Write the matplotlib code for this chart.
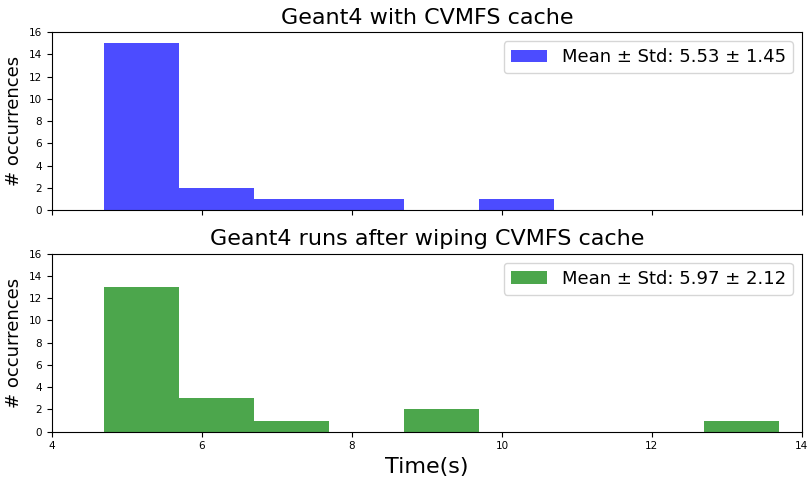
import numpy as np
import matplotlib.pyplot as plt

# histogram bins (seconds) and counts
bin_edges = [4.7, 5.7, 6.7, 7.7, 8.7, 9.7, 10.7, 11.7, 12.7, 13.7]
counts_cache = [15, 2, 1, 1, 0, 1, 0, 0, 0]
counts_wiped = [13, 3, 1, 0, 2, 0, 0, 0, 1]
label_cache = 'Mean ± Std: 5.53 ± 1.45'
label_wiped = 'Mean ± Std: 5.97 ± 2.12'

fig, (ax1, ax2) = plt.subplots(2, 1, figsize=(8.1, 4.78), dpi=100, sharex=True)
fig.subplots_adjust(left=0.064, right=0.99, top=0.933, bottom=0.097, hspace=0.245)

ax1.hist(bin_edges[:-1], bins=bin_edges, weights=counts_cache, color='blue', alpha=0.7,
         label=label_cache)
ax2.hist(bin_edges[:-1], bins=bin_edges, weights=counts_wiped, color='green', alpha=0.7,
         label=label_wiped)

ax1.set_title('Geant4 with CVMFS cache', fontsize=16)
ax2.set_title('Geant4 runs after wiping CVMFS cache', fontsize=16)
for ax in (ax1, ax2):
    ax.set_ylim(0, 16)
    ax.set_yticks(range(0, 17, 2))
    ax.set_ylabel('# occurrences', fontsize=13)
    ax.tick_params(labelsize=7.5)
    ax.legend(loc='upper right', fontsize=13)
ax2.set_xlim(4, 14)
ax2.set_xlabel('Time(s)', fontsize=16)

plt.savefig('out.png')
